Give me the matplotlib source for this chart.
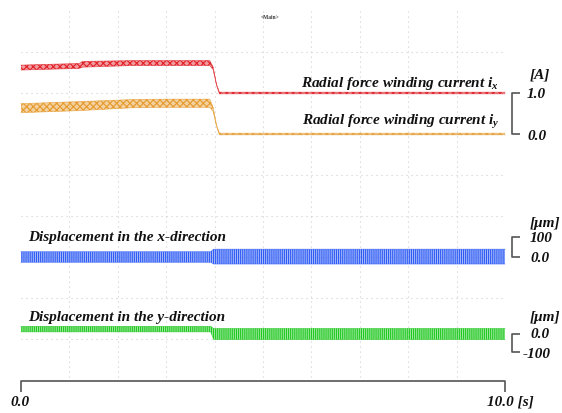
import numpy as np
import matplotlib
matplotlib.use('Agg')
import matplotlib.pyplot as plt

plt.rcParams['font.family'] = ['Liberation Serif', 'DejaVu Serif']
plt.rcParams['mathtext.fontset'] = 'custom'
plt.rcParams['mathtext.it'] = 'Liberation Serif:bold:italic'
plt.rcParams['mathtext.rm'] = 'Liberation Serif:bold'
plt.rcParams['hatch.linewidth'] = 0.8

# radial force winding current ix [A]: time, mean level, ripple half-width
ix_t = [0.0, 1.2, 1.27, 2.3, 3.0, 3.9, 3.97, 4.04, 4.1, 10.0]
ix_mean = [0.62, 0.66, 0.70, 0.73, 0.73, 0.73, 0.60, 0.20, 0.0, 0.0]
ix_rip = [0.06, 0.06, 0.07, 0.06, 0.06, 0.06, 0.03, 0.01, 0.02, 0.02]

# radial force winding current iy [A]
iy_t = [0.0, 1.2, 2.3, 3.0, 3.9, 3.97, 4.04, 4.1, 10.0]
iy_mean = [0.63, 0.68, 0.74, 0.75, 0.75, 0.60, 0.20, 0.0, 0.0]
iy_rip = [0.11, 0.11, 0.10, 0.10, 0.10, 0.05, 0.02, 0.02, 0.02]

# displacement in x [um]
dx_t = [0.0, 3.92, 3.98, 10.0]
dx_mean = [0.0, 0.0, 2.0, 2.0]
dx_rip = [27.0, 27.0, 38.0, 38.0]

# displacement in y [um]
dy_t = [0.0, 3.92, 3.98, 10.0]
dy_mean = [25.0, 25.0, 0.0, 0.0]
dy_rip = [14.0, 14.0, 28.0, 28.0]

# screen layout: 1 div = 41 px, 48.4 px per second
PX_S = 48.4
PX_DIV = 41.0
A_PER_DIV = 1.0
UM_PER_DIV = 100.0 / 19.5 * PX_DIV

fig = plt.figure(figsize=(5.62, 4.14), dpi=100)
ax = fig.add_axes([0, 0, 1, 1])
ax.set_xlim(-21 / PX_S, 541 / PX_S)
ax.set_ylim(-(414 - 135) / PX_DIV, 135 / PX_DIV)
ax.axis('off')

def px_y(py):
    return (135 - py) / PX_DIV

def px_x(px):
    return (px - 21) / PX_S

# dotted graticule
grid_kw = dict(color='#cfcfcf', lw=0.8, ls=(0, (1, 3.5)), zorder=0)
for s in range(1, 10):
    ax.plot([s, s], [px_y(12), px_y(378)], **grid_kw)
for d in range(-5, 3):
    ax.plot([0, 10], [d, d], **grid_kw)

def trace(t, mean, rip, offset, per_div, color, hatch, face_alpha):
    t = np.array(t)
    mean = np.array(mean)
    rip = np.array(rip)
    hi = offset + (mean + rip) / per_div
    lo = offset + (mean - rip) / per_div
    face = matplotlib.colors.to_rgba(color, face_alpha)
    ax.fill_between(t, lo, hi, facecolor=face, edgecolor=color,
                    hatch=hatch, linewidth=0, zorder=2)
    ax.plot(t, hi, color=color, lw=0.5, alpha=0.7, zorder=3)
    ax.plot(t, lo, color=color, lw=0.5, alpha=0.7, zorder=3)

red = '#e01f26'
orange = '#e59a2c'
blue = '#2f5cf5'
green = '#1ec81e'

trace(ix_t, ix_mean, ix_rip, 1.0, A_PER_DIV, red, 'xxxxx', 0.45)
trace(iy_t, iy_mean, iy_rip, 0.0, A_PER_DIV, orange, 'xxxxx', 0.45)
trace(dx_t, dx_mean, dx_rip, px_y(258), UM_PER_DIV, blue, '||||||||', 0.4)
trace(dy_t, dy_mean, dy_rip, px_y(335), UM_PER_DIV, green, '||||||||', 0.4)

txt = dict(fontsize=11, fontweight='bold', fontstyle='italic', color='#111111')
ax.text(px_x(499), px_y(83), 'Radial force winding current $i_x$', ha='right', va='center', **txt)
ax.text(px_x(499), px_y(122), 'Radial force winding current $i_y$', ha='right', va='center', **txt)
ax.text(px_x(28), px_y(237), 'Displacement in the x-direction', ha='left', va='center', **txt)
ax.text(px_x(28), px_y(317), 'Displacement in the y-direction', ha='left', va='center', **txt)

# scale brackets on the right
bar_kw = dict(color='#555555', lw=1.2, solid_capstyle='butt', zorder=3)
def bracket(y_top, y_bot, labels, label_px):
    xb, xt = px_x(512), px_x(520)
    ax.plot([xt, xb, xb, xt], [y_top, y_top, y_bot, y_bot], **bar_kw)
    for (s, py), lx in zip(labels, label_px):
        ax.text(px_x(lx), px_y(py), s, ha='left', va='center', **txt)

bracket(1.0, 0.0, [('[A]', 75), ('1.0', 94), ('0.0', 137)], [530, 527, 527])
bracket(px_y(238), px_y(258), [('[μm]', 223), ('100', 238), ('0.0', 259)], [530, 530, 530])
bracket(px_y(335), px_y(353), [('[μm]', 318), ('0.0', 335), ('-100', 354)], [530, 530, 523])

# time bar
yb, yt = px_y(382), px_y(393)
ax.plot([0, 0, 10, 10], [yt, yb, yb, yt], **bar_kw)
ax.text(px_x(10), px_y(403), '0.0', ha='left', va='center', **txt)
ax.text(px_x(487), px_y(402), '10.0 [s]', ha='left', va='center', **txt)

ax.text(px_x(270), px_y(17), '<Main>', ha='center', va='center', fontsize=4,
        fontweight='bold', color='#333333')

fig.savefig('out.png', dpi=100)
